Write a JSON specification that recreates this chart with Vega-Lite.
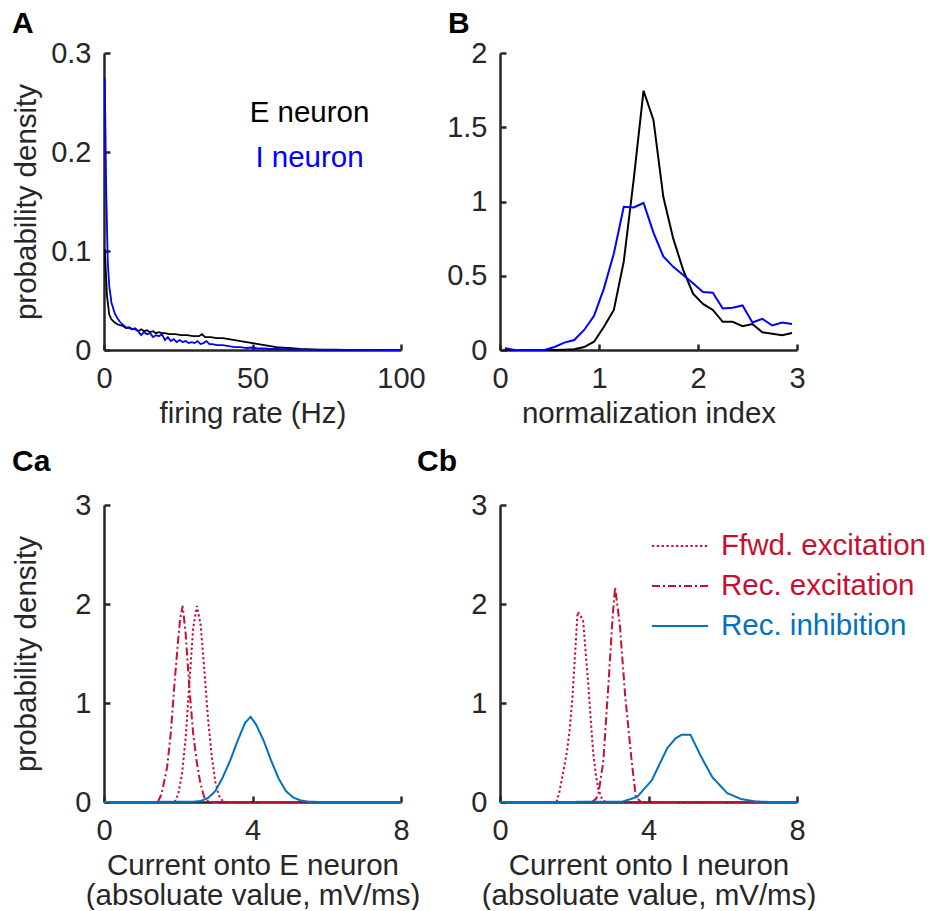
{
  "$schema": "https://vega.github.io/schema/vega-lite/v6.json",
  "background": "white",
  "padding": {"left": 10, "top": 9, "right": 0, "bottom": 0},
  "config": {
    "font": "Liberation Sans",
    "view": {"stroke": null},
    "axis": {
      "grid": false,
      "domainColor": "#262626",
      "domainWidth": 2.5,
      "tickColor": "#262626",
      "tickWidth": 2.5,
      "tickSize": -6,
      "labelFont": "Liberation Sans",
      "labelFontSize": 29,
      "labelColor": "#262626",
      "labelFlush": false,
      "labelOverlap": false,
      "titleFont": "Liberation Sans",
      "titleFontSize": 29.5,
      "titleFontWeight": "normal",
      "titleColor": "#262626",
      "titleLineHeight": 29.5
    },
    "axisX": {"labelPadding": 43, "labelBaseline": "alphabetic", "titleBaseline": "alphabetic", "titleY": 72},
    "axisY": {"labelPadding": 19, "titleBaseline": "alphabetic", "titleX": -69, "titleAngle": -90},
    "title": {"font": "Liberation Sans", "fontSize": 30, "fontWeight": "bold", "color": "black", "anchor": "start", "frame": "group", "baseline": "alphabetic"}
  },
  "datasets": {
    "rates": [
      {"rate": 0.25, "density": 0.102, "neuron": "E neuron"},
      {"rate": 1, "density": 0.055, "neuron": "E neuron"},
      {"rate": 1.75, "density": 0.036, "neuron": "E neuron"},
      {"rate": 2.5, "density": 0.031, "neuron": "E neuron"},
      {"rate": 3.5, "density": 0.028, "neuron": "E neuron"},
      {"rate": 4.5, "density": 0.026, "neuron": "E neuron"},
      {"rate": 5.5, "density": 0.025, "neuron": "E neuron"},
      {"rate": 6.5, "density": 0.024, "neuron": "E neuron"},
      {"rate": 7.5, "density": 0.022, "neuron": "E neuron"},
      {"rate": 8.5, "density": 0.023, "neuron": "E neuron"},
      {"rate": 9.5, "density": 0.021, "neuron": "E neuron"},
      {"rate": 10.5, "density": 0.021, "neuron": "E neuron"},
      {"rate": 11.5, "density": 0.019, "neuron": "E neuron"},
      {"rate": 12.5, "density": 0.021, "neuron": "E neuron"},
      {"rate": 13.5, "density": 0.019, "neuron": "E neuron"},
      {"rate": 14.5, "density": 0.020, "neuron": "E neuron"},
      {"rate": 15.5, "density": 0.018, "neuron": "E neuron"},
      {"rate": 16.5, "density": 0.019, "neuron": "E neuron"},
      {"rate": 17.5, "density": 0.017, "neuron": "E neuron"},
      {"rate": 18.5, "density": 0.018, "neuron": "E neuron"},
      {"rate": 19.5, "density": 0.017, "neuron": "E neuron"},
      {"rate": 20.5, "density": 0.017, "neuron": "E neuron"},
      {"rate": 22, "density": 0.016, "neuron": "E neuron"},
      {"rate": 24, "density": 0.016, "neuron": "E neuron"},
      {"rate": 26, "density": 0.015, "neuron": "E neuron"},
      {"rate": 28, "density": 0.015, "neuron": "E neuron"},
      {"rate": 30, "density": 0.014, "neuron": "E neuron"},
      {"rate": 32, "density": 0.014, "neuron": "E neuron"},
      {"rate": 33, "density": 0.016, "neuron": "E neuron"},
      {"rate": 34, "density": 0.013, "neuron": "E neuron"},
      {"rate": 36, "density": 0.013, "neuron": "E neuron"},
      {"rate": 38, "density": 0.012, "neuron": "E neuron"},
      {"rate": 40, "density": 0.012, "neuron": "E neuron"},
      {"rate": 42, "density": 0.011, "neuron": "E neuron"},
      {"rate": 44, "density": 0.010, "neuron": "E neuron"},
      {"rate": 46, "density": 0.009, "neuron": "E neuron"},
      {"rate": 48, "density": 0.008, "neuron": "E neuron"},
      {"rate": 50, "density": 0.007, "neuron": "E neuron"},
      {"rate": 52, "density": 0.006, "neuron": "E neuron"},
      {"rate": 54, "density": 0.005, "neuron": "E neuron"},
      {"rate": 56, "density": 0.004, "neuron": "E neuron"},
      {"rate": 58, "density": 0.003, "neuron": "E neuron"},
      {"rate": 60, "density": 0.0025, "neuron": "E neuron"},
      {"rate": 62, "density": 0.002, "neuron": "E neuron"},
      {"rate": 64, "density": 0.0015, "neuron": "E neuron"},
      {"rate": 66, "density": 0.001, "neuron": "E neuron"},
      {"rate": 68, "density": 0.0008, "neuron": "E neuron"},
      {"rate": 70, "density": 0.0006, "neuron": "E neuron"},
      {"rate": 74, "density": 0.0004, "neuron": "E neuron"},
      {"rate": 78, "density": 0.0003, "neuron": "E neuron"},
      {"rate": 82, "density": 0.0002, "neuron": "E neuron"},
      {"rate": 86, "density": 0.0001, "neuron": "E neuron"},
      {"rate": 90, "density": 0.0001, "neuron": "E neuron"},
      {"rate": 95, "density": 0, "neuron": "E neuron"},
      {"rate": 99.5, "density": 0, "neuron": "E neuron"},
      {"rate": 0.25, "density": 0.275, "neuron": "I neuron"},
      {"rate": 0.75, "density": 0.16, "neuron": "I neuron"},
      {"rate": 1.25, "density": 0.09, "neuron": "I neuron"},
      {"rate": 1.75, "density": 0.065, "neuron": "I neuron"},
      {"rate": 2.5, "density": 0.048, "neuron": "I neuron"},
      {"rate": 3.5, "density": 0.038, "neuron": "I neuron"},
      {"rate": 4.5, "density": 0.032, "neuron": "I neuron"},
      {"rate": 5.5, "density": 0.028, "neuron": "I neuron"},
      {"rate": 6.5, "density": 0.025, "neuron": "I neuron"},
      {"rate": 7.5, "density": 0.023, "neuron": "I neuron"},
      {"rate": 8.5, "density": 0.022, "neuron": "I neuron"},
      {"rate": 9.5, "density": 0.021, "neuron": "I neuron"},
      {"rate": 10.5, "density": 0.022, "neuron": "I neuron"},
      {"rate": 11.5, "density": 0.019, "neuron": "I neuron"},
      {"rate": 12.5, "density": 0.015, "neuron": "I neuron"},
      {"rate": 13.5, "density": 0.018, "neuron": "I neuron"},
      {"rate": 14.5, "density": 0.016, "neuron": "I neuron"},
      {"rate": 15.5, "density": 0.017, "neuron": "I neuron"},
      {"rate": 16.5, "density": 0.013, "neuron": "I neuron"},
      {"rate": 17.5, "density": 0.015, "neuron": "I neuron"},
      {"rate": 18.5, "density": 0.014, "neuron": "I neuron"},
      {"rate": 19.5, "density": 0.016, "neuron": "I neuron"},
      {"rate": 20.5, "density": 0.010, "neuron": "I neuron"},
      {"rate": 21.5, "density": 0.013, "neuron": "I neuron"},
      {"rate": 22.5, "density": 0.009, "neuron": "I neuron"},
      {"rate": 23.5, "density": 0.011, "neuron": "I neuron"},
      {"rate": 24.5, "density": 0.008, "neuron": "I neuron"},
      {"rate": 25.5, "density": 0.010, "neuron": "I neuron"},
      {"rate": 26.5, "density": 0.008, "neuron": "I neuron"},
      {"rate": 27.5, "density": 0.009, "neuron": "I neuron"},
      {"rate": 28.5, "density": 0.007, "neuron": "I neuron"},
      {"rate": 29.5, "density": 0.008, "neuron": "I neuron"},
      {"rate": 30.5, "density": 0.007, "neuron": "I neuron"},
      {"rate": 31.5, "density": 0.009, "neuron": "I neuron"},
      {"rate": 32.5, "density": 0.006, "neuron": "I neuron"},
      {"rate": 33.5, "density": 0.007, "neuron": "I neuron"},
      {"rate": 34.5, "density": 0.009, "neuron": "I neuron"},
      {"rate": 35.5, "density": 0.006, "neuron": "I neuron"},
      {"rate": 36.5, "density": 0.006, "neuron": "I neuron"},
      {"rate": 38, "density": 0.005, "neuron": "I neuron"},
      {"rate": 40, "density": 0.005, "neuron": "I neuron"},
      {"rate": 42, "density": 0.004, "neuron": "I neuron"},
      {"rate": 44, "density": 0.003, "neuron": "I neuron"},
      {"rate": 46, "density": 0.003, "neuron": "I neuron"},
      {"rate": 48, "density": 0.002, "neuron": "I neuron"},
      {"rate": 50, "density": 0.0025, "neuron": "I neuron"},
      {"rate": 52, "density": 0.0015, "neuron": "I neuron"},
      {"rate": 54, "density": 0.0015, "neuron": "I neuron"},
      {"rate": 56, "density": 0.001, "neuron": "I neuron"},
      {"rate": 58, "density": 0.001, "neuron": "I neuron"},
      {"rate": 60, "density": 0.0008, "neuron": "I neuron"},
      {"rate": 64, "density": 0.0005, "neuron": "I neuron"},
      {"rate": 68, "density": 0.0003, "neuron": "I neuron"},
      {"rate": 72, "density": 0.0002, "neuron": "I neuron"},
      {"rate": 78, "density": 0.0001, "neuron": "I neuron"},
      {"rate": 84, "density": 0.0002, "neuron": "I neuron"},
      {"rate": 90, "density": 0.0001, "neuron": "I neuron"},
      {"rate": 95, "density": 0, "neuron": "I neuron"},
      {"rate": 99.5, "density": 0, "neuron": "I neuron"}
    ],
    "norm": [
      {"index": 0.05, "density": 0.0, "neuron": "E neuron"},
      {"index": 0.15, "density": 0.0, "neuron": "E neuron"},
      {"index": 0.25, "density": 0.0, "neuron": "E neuron"},
      {"index": 0.35, "density": 0.0, "neuron": "E neuron"},
      {"index": 0.45, "density": 0.0, "neuron": "E neuron"},
      {"index": 0.55, "density": 0.0, "neuron": "E neuron"},
      {"index": 0.65, "density": 0.002, "neuron": "E neuron"},
      {"index": 0.75, "density": 0.005, "neuron": "E neuron"},
      {"index": 0.85, "density": 0.02, "neuron": "E neuron"},
      {"index": 0.95, "density": 0.056, "neuron": "E neuron"},
      {"index": 1.05, "density": 0.157, "neuron": "E neuron"},
      {"index": 1.15, "density": 0.27, "neuron": "E neuron"},
      {"index": 1.25, "density": 0.595, "neuron": "E neuron"},
      {"index": 1.35, "density": 1.145, "neuron": "E neuron"},
      {"index": 1.45, "density": 1.746, "neuron": "E neuron"},
      {"index": 1.55, "density": 1.549, "neuron": "E neuron"},
      {"index": 1.65, "density": 1.03, "neuron": "E neuron"},
      {"index": 1.75, "density": 0.75, "neuron": "E neuron"},
      {"index": 1.85, "density": 0.54, "neuron": "E neuron"},
      {"index": 1.95, "density": 0.38, "neuron": "E neuron"},
      {"index": 2.05, "density": 0.31, "neuron": "E neuron"},
      {"index": 2.15, "density": 0.27, "neuron": "E neuron"},
      {"index": 2.25, "density": 0.19, "neuron": "E neuron"},
      {"index": 2.35, "density": 0.19, "neuron": "E neuron"},
      {"index": 2.45, "density": 0.16, "neuron": "E neuron"},
      {"index": 2.55, "density": 0.175, "neuron": "E neuron"},
      {"index": 2.65, "density": 0.12, "neuron": "E neuron"},
      {"index": 2.75, "density": 0.11, "neuron": "E neuron"},
      {"index": 2.85, "density": 0.10, "neuron": "E neuron"},
      {"index": 2.95, "density": 0.115, "neuron": "E neuron"},
      {"index": 0.05, "density": 0.012, "neuron": "I neuron"},
      {"index": 0.15, "density": 0.0, "neuron": "I neuron"},
      {"index": 0.25, "density": 0.0, "neuron": "I neuron"},
      {"index": 0.35, "density": 0.0, "neuron": "I neuron"},
      {"index": 0.45, "density": 0.0, "neuron": "I neuron"},
      {"index": 0.55, "density": 0.02, "neuron": "I neuron"},
      {"index": 0.65, "density": 0.05, "neuron": "I neuron"},
      {"index": 0.75, "density": 0.067, "neuron": "I neuron"},
      {"index": 0.85, "density": 0.135, "neuron": "I neuron"},
      {"index": 0.95, "density": 0.23, "neuron": "I neuron"},
      {"index": 1.05, "density": 0.415, "neuron": "I neuron"},
      {"index": 1.15, "density": 0.65, "neuron": "I neuron"},
      {"index": 1.25, "density": 0.965, "neuron": "I neuron"},
      {"index": 1.35, "density": 0.96, "neuron": "I neuron"},
      {"index": 1.45, "density": 0.99, "neuron": "I neuron"},
      {"index": 1.55, "density": 0.79, "neuron": "I neuron"},
      {"index": 1.65, "density": 0.63, "neuron": "I neuron"},
      {"index": 1.75, "density": 0.56, "neuron": "I neuron"},
      {"index": 1.85, "density": 0.505, "neuron": "I neuron"},
      {"index": 1.95, "density": 0.45, "neuron": "I neuron"},
      {"index": 2.05, "density": 0.39, "neuron": "I neuron"},
      {"index": 2.15, "density": 0.385, "neuron": "I neuron"},
      {"index": 2.25, "density": 0.28, "neuron": "I neuron"},
      {"index": 2.35, "density": 0.285, "neuron": "I neuron"},
      {"index": 2.45, "density": 0.30, "neuron": "I neuron"},
      {"index": 2.55, "density": 0.185, "neuron": "I neuron"},
      {"index": 2.65, "density": 0.21, "neuron": "I neuron"},
      {"index": 2.75, "density": 0.165, "neuron": "I neuron"},
      {"index": 2.85, "density": 0.185, "neuron": "I neuron"},
      {"index": 2.95, "density": 0.175, "neuron": "I neuron"}
    ],
    "currentE": [
      {"current": 1.9, "density": 0, "input": "Ffwd. excitation"},
      {"current": 2.0, "density": 0.08, "input": "Ffwd. excitation"},
      {"current": 2.1, "density": 0.28, "input": "Ffwd. excitation"},
      {"current": 2.2, "density": 0.65, "input": "Ffwd. excitation"},
      {"current": 2.3, "density": 1.2, "input": "Ffwd. excitation"},
      {"current": 2.4, "density": 1.75, "input": "Ffwd. excitation"},
      {"current": 2.5, "density": 1.98, "input": "Ffwd. excitation"},
      {"current": 2.6, "density": 1.8, "input": "Ffwd. excitation"},
      {"current": 2.7, "density": 1.35, "input": "Ffwd. excitation"},
      {"current": 2.8, "density": 0.85, "input": "Ffwd. excitation"},
      {"current": 2.9, "density": 0.47, "input": "Ffwd. excitation"},
      {"current": 3.0, "density": 0.2, "input": "Ffwd. excitation"},
      {"current": 3.1, "density": 0.06, "input": "Ffwd. excitation"},
      {"current": 3.2, "density": 0.01, "input": "Ffwd. excitation"},
      {"current": 3.3, "density": 0, "input": "Ffwd. excitation"},
      {"current": 8, "density": 0, "input": "Ffwd. excitation"},
      {"current": 1.45, "density": 0, "input": "Rec. excitation"},
      {"current": 1.55, "density": 0.08, "input": "Rec. excitation"},
      {"current": 1.7, "density": 0.35, "input": "Rec. excitation"},
      {"current": 1.8, "density": 0.7, "input": "Rec. excitation"},
      {"current": 1.9, "density": 1.2, "input": "Rec. excitation"},
      {"current": 2.0, "density": 1.65, "input": "Rec. excitation"},
      {"current": 2.05, "density": 1.85, "input": "Rec. excitation"},
      {"current": 2.12, "density": 1.98, "input": "Rec. excitation"},
      {"current": 2.2, "density": 1.7, "input": "Rec. excitation"},
      {"current": 2.3, "density": 1.15, "input": "Rec. excitation"},
      {"current": 2.4, "density": 0.7, "input": "Rec. excitation"},
      {"current": 2.5, "density": 0.4, "input": "Rec. excitation"},
      {"current": 2.6, "density": 0.18, "input": "Rec. excitation"},
      {"current": 2.7, "density": 0.05, "input": "Rec. excitation"},
      {"current": 2.8, "density": 0.01, "input": "Rec. excitation"},
      {"current": 2.9, "density": 0, "input": "Rec. excitation"},
      {"current": 8, "density": 0, "input": "Rec. excitation"},
      {"current": 0, "density": 0, "input": "Rec. inhibition"},
      {"current": 2.4, "density": 0.002, "input": "Rec. inhibition"},
      {"current": 2.6, "density": 0.01, "input": "Rec. inhibition"},
      {"current": 2.8, "density": 0.04, "input": "Rec. inhibition"},
      {"current": 3.0, "density": 0.11, "input": "Rec. inhibition"},
      {"current": 3.2, "density": 0.25, "input": "Rec. inhibition"},
      {"current": 3.4, "density": 0.42, "input": "Rec. inhibition"},
      {"current": 3.6, "density": 0.62, "input": "Rec. inhibition"},
      {"current": 3.8, "density": 0.8, "input": "Rec. inhibition"},
      {"current": 3.95, "density": 0.86, "input": "Rec. inhibition"},
      {"current": 4.1, "density": 0.78, "input": "Rec. inhibition"},
      {"current": 4.3, "density": 0.62, "input": "Rec. inhibition"},
      {"current": 4.5, "density": 0.42, "input": "Rec. inhibition"},
      {"current": 4.7, "density": 0.24, "input": "Rec. inhibition"},
      {"current": 4.9, "density": 0.11, "input": "Rec. inhibition"},
      {"current": 5.1, "density": 0.045, "input": "Rec. inhibition"},
      {"current": 5.3, "density": 0.015, "input": "Rec. inhibition"},
      {"current": 5.5, "density": 0.004, "input": "Rec. inhibition"},
      {"current": 5.7, "density": 0.001, "input": "Rec. inhibition"},
      {"current": 6, "density": 0, "input": "Rec. inhibition"},
      {"current": 8, "density": 0, "input": "Rec. inhibition"}
    ],
    "currentI": [
      {"current": 1.52, "density": 0, "input": "Ffwd. excitation"},
      {"current": 1.6, "density": 0.1, "input": "Ffwd. excitation"},
      {"current": 1.7, "density": 0.3, "input": "Ffwd. excitation"},
      {"current": 1.8, "density": 0.5, "input": "Ffwd. excitation"},
      {"current": 1.88, "density": 0.74, "input": "Ffwd. excitation"},
      {"current": 1.95, "density": 1.05, "input": "Ffwd. excitation"},
      {"current": 2.01, "density": 1.41, "input": "Ffwd. excitation"},
      {"current": 2.09, "density": 1.92, "input": "Ffwd. excitation"},
      {"current": 2.17, "density": 1.88, "input": "Ffwd. excitation"},
      {"current": 2.24, "density": 1.83, "input": "Ffwd. excitation"},
      {"current": 2.31, "density": 1.5, "input": "Ffwd. excitation"},
      {"current": 2.38, "density": 1.18, "input": "Ffwd. excitation"},
      {"current": 2.45, "density": 0.8, "input": "Ffwd. excitation"},
      {"current": 2.51, "density": 0.5, "input": "Ffwd. excitation"},
      {"current": 2.58, "density": 0.28, "input": "Ffwd. excitation"},
      {"current": 2.65, "density": 0.13, "input": "Ffwd. excitation"},
      {"current": 2.74, "density": 0.04, "input": "Ffwd. excitation"},
      {"current": 2.83, "density": 0, "input": "Ffwd. excitation"},
      {"current": 8, "density": 0, "input": "Ffwd. excitation"},
      {"current": 2.47, "density": 0, "input": "Rec. excitation"},
      {"current": 2.58, "density": 0.03, "input": "Rec. excitation"},
      {"current": 2.65, "density": 0.08, "input": "Rec. excitation"},
      {"current": 2.78, "density": 0.4, "input": "Rec. excitation"},
      {"current": 2.92, "density": 1.18, "input": "Rec. excitation"},
      {"current": 3.03, "density": 1.85, "input": "Rec. excitation"},
      {"current": 3.1, "density": 2.17, "input": "Rec. excitation"},
      {"current": 3.23, "density": 1.78, "input": "Rec. excitation"},
      {"current": 3.37, "density": 1.08, "input": "Rec. excitation"},
      {"current": 3.55, "density": 0.4, "input": "Rec. excitation"},
      {"current": 3.66, "density": 0.05, "input": "Rec. excitation"},
      {"current": 3.8, "density": 0, "input": "Rec. excitation"},
      {"current": 8, "density": 0, "input": "Rec. excitation"},
      {"current": 0, "density": 0, "input": "Rec. inhibition"},
      {"current": 3.28, "density": 0.002, "input": "Rec. inhibition"},
      {"current": 3.69, "density": 0.05, "input": "Rec. inhibition"},
      {"current": 4.09, "density": 0.22, "input": "Rec. inhibition"},
      {"current": 4.5, "density": 0.54, "input": "Rec. inhibition"},
      {"current": 4.72, "density": 0.64, "input": "Rec. inhibition"},
      {"current": 4.9, "density": 0.68, "input": "Rec. inhibition"},
      {"current": 5.13, "density": 0.68, "input": "Rec. inhibition"},
      {"current": 5.4, "density": 0.47, "input": "Rec. inhibition"},
      {"current": 5.72, "density": 0.25, "input": "Rec. inhibition"},
      {"current": 6.12, "density": 0.09, "input": "Rec. inhibition"},
      {"current": 6.49, "density": 0.03, "input": "Rec. inhibition"},
      {"current": 6.9, "density": 0.005, "input": "Rec. inhibition"},
      {"current": 7.3, "density": 0, "input": "Rec. inhibition"},
      {"current": 8, "density": 0, "input": "Rec. inhibition"}
    ]
  },
  "columns": 2,
  "bounds": "flush",
  "spacing": {"row": 155, "column": 99},
  "resolve": {
    "scale": {"color": "independent", "strokeDash": "independent", "x": "independent", "y": "independent"},
    "legend": {"color": "independent", "strokeDash": "independent"}
  },
  "concat": [
    {
      "width": 297, "height": 297,
      "title": {"text": "A", "dx": -92, "offset": 0},
      "data": {"name": "rates"},
      "mark": {"type": "line", "strokeWidth": 1.8},
      "encoding": {
        "x": {"field": "rate", "type": "quantitative", "scale": {"domain": [0, 100], "nice": false}, "axis": {"values": [0, 50, 100], "title": "firing rate (Hz)"}},
        "y": {"field": "density", "type": "quantitative", "scale": {"domain": [0, 0.3], "nice": false}, "axis": {"values": [0, 0.1, 0.2, 0.3], "format": "~g", "title": "probability density"}},
        "color": {"field": "neuron", "type": "nominal", "scale": {"domain": ["E neuron", "I neuron"], "range": ["black", "blue"]},
          "legend": {"orient": "none", "legendX": 176, "legendY": 45, "title": null, "padding": 0, "symbolType": "stroke", "symbolSize": 1, "symbolOpacity": 0, "symbolStrokeWidth": 0, "labelOffset": 0, "labelAlign": "center", "labelFontSize": 29.5, "labelFont": "Liberation Sans", "labelLimit": 400, "rowPadding": 14,
            "encode": {"labels": {"update": {"fill": {"signal": "datum.label === 'I neuron' ? 'blue' : 'black'"}}}}}}
      }
    },
    {
      "width": 297, "height": 297,
      "title": {"text": "B", "dx": -52, "offset": 0},
      "data": {"name": "norm"},
      "mark": {"type": "line", "strokeWidth": 2},
      "encoding": {
        "x": {"field": "index", "type": "quantitative", "scale": {"domain": [0, 3], "nice": false}, "axis": {"values": [0, 1, 2, 3], "title": "normalization index"}},
        "y": {"field": "density", "type": "quantitative", "scale": {"domain": [0, 2], "nice": false}, "axis": {"values": [0, 0.5, 1, 1.5, 2], "format": "~g", "title": null}},
        "color": {"field": "neuron", "type": "nominal", "scale": {"domain": ["E neuron", "I neuron"], "range": ["black", "blue"]}, "legend": null}
      }
    },
    {
      "width": 297, "height": 297,
      "title": {"text": "Ca", "dx": -92, "offset": 14},
      "data": {"name": "currentE"},
      "mark": {"type": "line", "strokeWidth": 2},
      "encoding": {
        "x": {"field": "current", "type": "quantitative", "scale": {"domain": [0, 8], "nice": false}, "axis": {"values": [0, 4, 8], "title": ["Current onto E neuron", "(absoluate value, mV/ms)"], "titleY": 72.5}},
        "y": {"field": "density", "type": "quantitative", "scale": {"domain": [0, 3], "nice": false}, "axis": {"values": [0, 1, 2, 3], "title": "probability density"}},
        "color": {"field": "input", "type": "nominal", "scale": {"domain": ["Ffwd. excitation", "Rec. excitation", "Rec. inhibition"], "range": ["#C80F32", "#C80F32", "#0072BD"]}, "legend": null},
        "strokeDash": {"field": "input", "type": "nominal", "scale": {"domain": ["Ffwd. excitation", "Rec. excitation", "Rec. inhibition"], "range": [[2.3, 2.5], [8, 3, 2, 3], [1, 0]]}, "legend": null}
      }
    },
    {
      "width": 297, "height": 297,
      "title": {"text": "Cb", "dx": -83, "offset": 14},
      "data": {"name": "currentI"},
      "mark": {"type": "line", "strokeWidth": 2},
      "encoding": {
        "x": {"field": "current", "type": "quantitative", "scale": {"domain": [0, 8], "nice": false}, "axis": {"values": [0, 4, 8], "title": ["Current onto I neuron", "(absoluate value, mV/ms)"], "titleY": 72.5}},
        "y": {"field": "density", "type": "quantitative", "scale": {"domain": [0, 3], "nice": false}, "axis": {"values": [0, 1, 2, 3], "title": null}},
        "color": {"field": "input", "type": "nominal", "scale": {"domain": ["Ffwd. excitation", "Rec. excitation", "Rec. inhibition"], "range": ["#C80F32", "#C80F32", "#0072BD"]},
          "legend": {"orient": "none", "legendX": 159, "legendY": 20, "title": null, "padding": 0, "symbolType": "M-1.4,0H1.4", "symbolSize": 1600, "symbolStrokeWidth": 2, "symbolFillColor": "transparent", "labelOffset": 20, "labelFontSize": 29.5, "labelFont": "Liberation Sans", "labelLimit": 400, "rowPadding": 4,
            "encode": {"labels": {"update": {"fill": {"signal": "datum.label === 'Rec. inhibition' ? '#0072BD' : '#C80F32'"}}}}}},
        "strokeDash": {"field": "input", "type": "nominal", "scale": {"domain": ["Ffwd. excitation", "Rec. excitation", "Rec. inhibition"], "range": [[2.3, 2.5], [8, 3, 2, 3], [1, 0]]},
          "legend": {"orient": "none", "legendX": 159, "legendY": 20, "title": null, "padding": 0, "symbolType": "M-1.4,0H1.4", "symbolSize": 1600, "symbolStrokeWidth": 2, "labelOffset": 20, "labelFontSize": 29.5, "labelLimit": 400, "rowPadding": 4}}
      }
    }
  ]
}
